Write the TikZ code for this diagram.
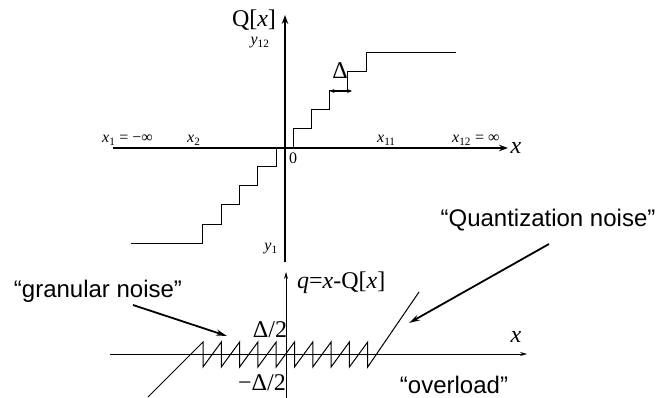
\documentclass[tikz,border=0pt]{standalone}
\usepackage{fontspec}
\setmainfont{Liberation Serif}
\setsansfont{Liberation Sans}
\usetikzlibrary{arrows.meta}
\newcommand{\ix}{\textit{x}}
\newcommand{\iy}{\textit{y}}

\begin{document}
\begin{tikzpicture}[x=1pt, y=-1pt,
  axis/.style={line width=2.5pt, -{Stealth[length=9pt,width=6.5pt]}},
  thinaxis/.style={line width=0.8pt, -{Stealth[length=7pt,width=4pt]}},
  curve/.style={line width=1pt},
  ptr/.style={line width=1.8pt, -{Stealth[length=11pt,width=6pt]}},
  tick/.style={font=\fontsize{16}{16}\selectfont, inner sep=0pt},
  big/.style={font=\fontsize{24}{24}\selectfont, inner sep=0pt},
  talk/.style={font=\sffamily\fontsize{24}{24}\selectfont, inner sep=0pt}]
\useasboundingbox (0,0) rectangle (661,398);

% quantizer curve Q[x]
\coordinate (xL) at (113,148);
\coordinate (xR) at (508,148);
\coordinate (yB) at (285,262);
\coordinate (yT) at (285,15);
\draw[axis] (xL) -- (xR);
\draw[axis] (yB) -- (yT);
\draw[curve] (293,148) |- (311.3,129) |- (329.6,110) |- (347.9,91)
   |- (366.2,72) |- (456,53);
\draw[curve] (276,148) |- (257.7,167) |- (239.4,186) |- (221.1,205)
   |- (202.8,224) |- (131,243);
\coordinate (dA) at (329.6,91);
\coordinate (dB) at (352,91);
\draw[line width=1.1pt, {Stealth[length=5pt,width=4pt]}-{Stealth[length=5pt,width=4pt]}]
   (dA) -- (dB);
\node[big] (delta) at (340,71) {Δ};
\node[big] (Qlbl) at (254,20) {Q[\ix]};
\node[big] (xlbl) at (516,148) {\ix};
\node[tick] (y12) at (260,43) {\iy\textsubscript{12}};
\node[tick] (y1) at (271,249) {\iy\textsubscript{1}};
\node[tick] (zero) at (293,158) {0};
\node[tick, anchor=base west] (x1) at (102,143) {\ix\textsubscript{1} = −∞};
\node[tick, anchor=base west] (x2) at (187,143) {\ix\textsubscript{2}};
\node[tick, anchor=base west] (x11) at (377,143) {\ix\textsubscript{11}};
\node[tick, anchor=base west] (x12) at (452,143) {\ix\textsubscript{12} = ∞};

% error q = x - Q[x]
\coordinate (qL) at (110,354);
\coordinate (qR) at (527,354);
\coordinate (qB) at (286,398);
\coordinate (qT) at (286,272);
\draw[thinaxis] (qL) -- (qR);
\draw[thinaxis] (qB) -- (qT);
\draw[curve] (148,397) -- (203,342)
   \foreach \k in {1,...,9} { -- ++(0,25) -- ++(18.3,-25) }
   -- ++(0,25) -- (419,292);
\node[big, anchor=west] (qlbl) at (297,283) {\textit{q}=\ix-Q[\ix]};
\node[big] (half) at (270,330) {Δ/2};
\node[big] (mhalf) at (262,383) {−Δ/2};
\node[big] (xlbl2) at (516,337) {\ix};

% remarks
\node[talk, anchor=base] (quant) at (548,226) {“Quantization noise”};
\node[talk, anchor=base] (gran) at (98,297) {“granular noise”};
\node[talk, anchor=base] (over) at (454,393) {“overload”};
\coordinate (quantFrom) at (549,244);
\coordinate (quantTo) at (409,323);
\coordinate (granFrom) at (133,305);
\coordinate (granTo) at (227,336);
\draw[ptr] (quantFrom) -- (quantTo);
\draw[ptr] (granFrom) -- (granTo);
\end{tikzpicture}
\end{document}
